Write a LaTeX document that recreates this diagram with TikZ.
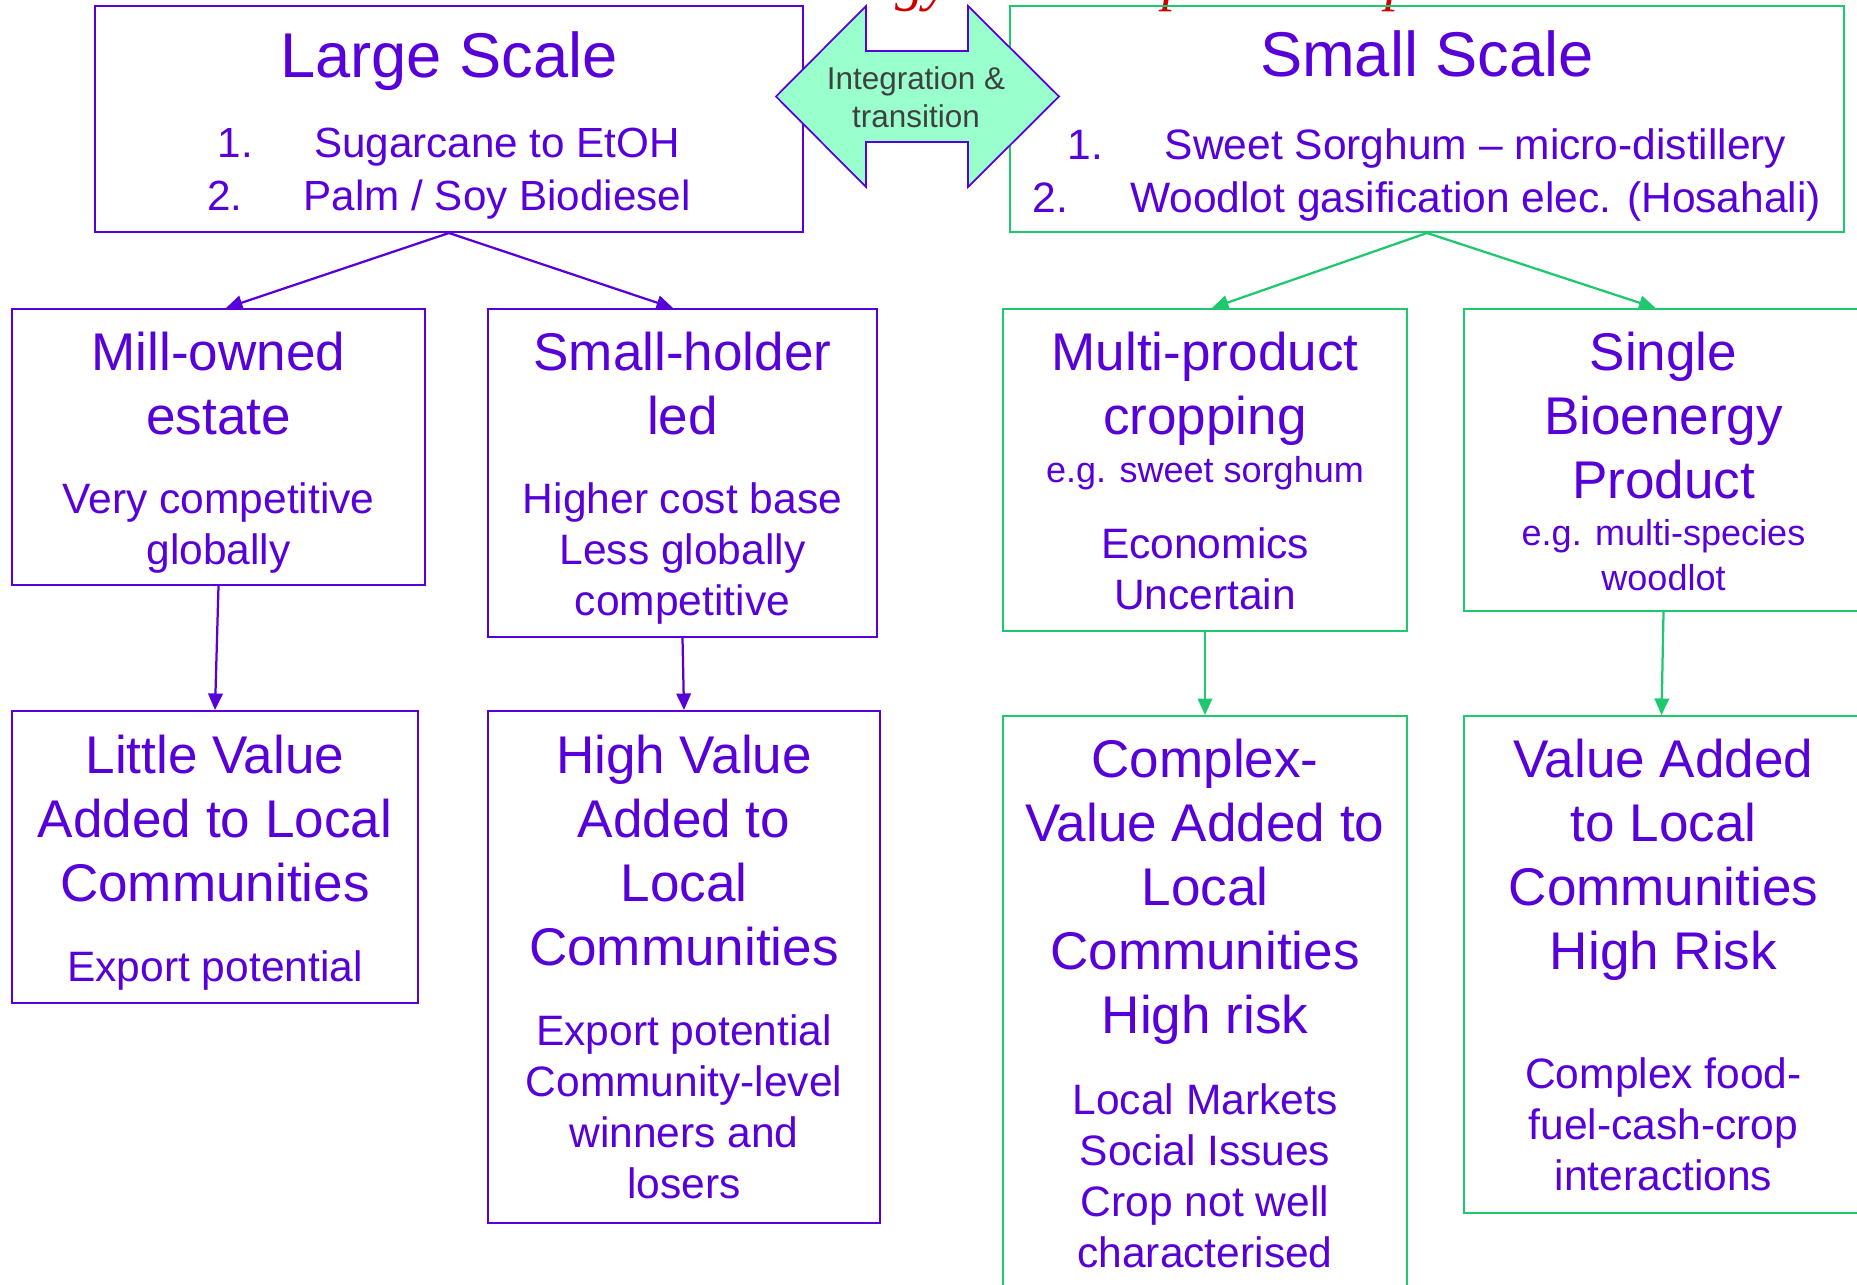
\documentclass[tikz,border=0pt]{standalone}
\usepackage{fontspec}
\setmainfont{Liberation Sans}
\newfontfamily\titlefont{Liberation Serif}
\usetikzlibrary{arrows.meta,fit}

\definecolor{inkpurple}{RGB}{88,0,218}
\definecolor{leafgreen}{RGB}{30,200,110}
\definecolor{mint}{RGB}{153,255,204}
\definecolor{slidered}{RGB}{204,0,0}
\definecolor{darkgrey}{RGB}{64,64,64}

\tikzset{
  pbox/.style={draw=inkpurple, line width=0.4mm, inner sep=0pt},
  gbox/.style={draw=leafgreen, line width=0.4mm, inner sep=0pt},
  parrow/.style={draw=inkpurple, line width=0.45mm, -{Triangle[length=3.3mm,width=2.9mm]}},
  garrow/.style={draw=leafgreen, line width=0.45mm, -{Triangle[length=3.3mm,width=2.9mm]}},
  txt/.style={text=inkpurple, inner sep=0pt, align=center},
  bigtitle/.style={txt, font=\fontsize{36}{43}\selectfont},
  items/.style={txt, font=\fontsize{#1}{30.2}\selectfont},
  head/.style={txt, font=\fontsize{30.2}{36.4}\selectfont},
  body/.style={txt, font=\fontsize{24.2}{29}\selectfont},
  eg/.style={txt, font=\fontsize{20.5}{25.6}\selectfont},
  swaptext/.style={text=darkgrey, inner sep=0pt, align=center, font=\fontsize{17.9}{21.6}\selectfont},
  redtitle/.style={text=slidered, inner sep=0pt, font=\titlefont\itshape\fontsize{33}{40}\selectfont}
}

\begin{document}
\begin{tikzpicture}[x=0.2mm,y=-0.2mm]
  \useasboundingbox (0,0) rectangle (1857,1285);
  \clip (0,0) rectangle (1857,1285);

  % heading above the slide, only the descenders are left
  \node[redtitle, anchor=base west] (head-gy) at (895,0) {gy};
  \node[redtitle, anchor=base west] (head-p1) at (1162,0) {p};
  \node[redtitle, anchor=base west] (head-p2) at (1385,0) {p};

  % boxes
  \node[pbox, fit={(95,6) (803,232)}] (large) {};
  \node[gbox, fit={(1010,6) (1844,232)}] (small) {};
  \node[pbox, fit={(12,309) (425,585)}] (mill) {};
  \node[pbox, fit={(488,309) (877,637)}] (holder) {};
  \node[gbox, fit={(1003,309) (1407,631)}] (multi) {};
  \node[gbox, fit={(1464,309) (1863,611)}] (single) {};
  \node[pbox, fit={(12,711) (418,1003)}] (little) {};
  \node[pbox, fit={(488,711) (880,1223)}] (high) {};
  \node[gbox, fit={(1003,716) (1407,1300)}] (complex) {};
  \node[gbox, fit={(1464,716) (1863,1213)}] (valueadd) {};

  % connectors
  \draw[parrow] (large.south) -- ([xshift=1.5mm]mill.north);
  \draw[parrow] (large.south) -- ([xshift=-1.9mm]holder.north);
  \draw[garrow] (small.south) -- ([xshift=1.4mm]multi.north);
  \draw[garrow] (small.south) -- ([xshift=-1.6mm]single.north);
  \draw[parrow] (mill.south) -- (little.north);
  \draw[parrow] (holder.south) -- (high.north);
  \draw[garrow] (multi.south) -- (complex.north);
  \draw[garrow] (single.south) -- ([xshift=-0.4mm]valueadd.north);

  % double arrow between the two scales
  \draw[inkpurple, line width=0.35mm, fill=mint] (776,96.5) -- (866,6) -- (866,51) -- (968,51) -- (968,6)
    -- (1059,96.5) -- (968,187) -- (968,142) -- (866,142) -- (866,187) -- cycle;
  \node[swaptext] (swap) at (916,97.5) {Integration \&\\transition};

  % top row
  \node[bigtitle, anchor=base] (large-title) at (449,78) {Large Scale};
  \node[items=24, anchor=north] (large-list) at (449,128)
    {1.\hspace{1.45em}Sugarcane to EtOH\\2.\hspace{1.45em}Palm / Soy Biodiesel};
  \node[bigtitle, anchor=base] (small-title) at (1427,77) {Small Scale};
  \node[items=24.2, anchor=north] (small-list) at (1427,128)
    {1.\hspace{1.45em}Sweet Sorghum – micro-distillery\\2.\hspace{1.45em}Woodlot gasification elec. (Hosahali)};

  % middle row
  \node[head, anchor=north] (mill-head) at (218.5,332) {Mill-owned\\estate};
  \node[body, anchor=north] (mill-body) at (218.5,482.6) {Very competitive\\globally};
  \node[head, anchor=north] (holder-head) at (682.5,331.4) {Small-holder\\led};
  \node[body, anchor=north] (holder-body) at (682.5,482.6) {Higher cost base\\Less globally\\competitive};
  \node[head, anchor=north] (multi-head) at (1205,332) {Multi-product\\cropping};
  \node[eg, anchor=base] (multi-eg) at (1205,482) {e.g. sweet sorghum};
  \node[body, anchor=north] (multi-body) at (1205,527.6) {Economics\\Uncertain};
  \node[head, anchor=north] (single-head) at (1663.5,331.4) {Single\\Bioenergy\\Product};
  \node[eg, anchor=north] (single-eg) at (1663.5,519.2) {e.g. multi-species\\woodlot};

  % bottom row
  \node[head, anchor=north] (little-head) at (215,735) {Little Value\\Added to Local\\Communities};
  \node[body, anchor=base] (little-body) at (215,981) {Export potential};
  \node[head, anchor=north] (high-head) at (684,735) {High Value\\Added to\\Local\\Communities};
  \node[body, anchor=north] (high-body) at (684,1014.6) {Export potential\\Community-level\\winners and\\losers};
  \node[head, anchor=north] (complex-head) at (1205,738.4) {Complex-\\Value Added to\\Local\\Communities\\High risk};
  \node[body, anchor=north] (complex-body) at (1205,1083.6) {Local Markets\\Social Issues\\Crop not well\\characterised};
  \node[head, anchor=north] (valueadd-head) at (1663.5,739) {Value Added\\to Local\\Communities\\High Risk};
  \node[body, anchor=north] (valueadd-body) at (1663.5,1057) {Complex food-\\fuel-cash-crop\\interactions};
\end{tikzpicture}
\end{document}
